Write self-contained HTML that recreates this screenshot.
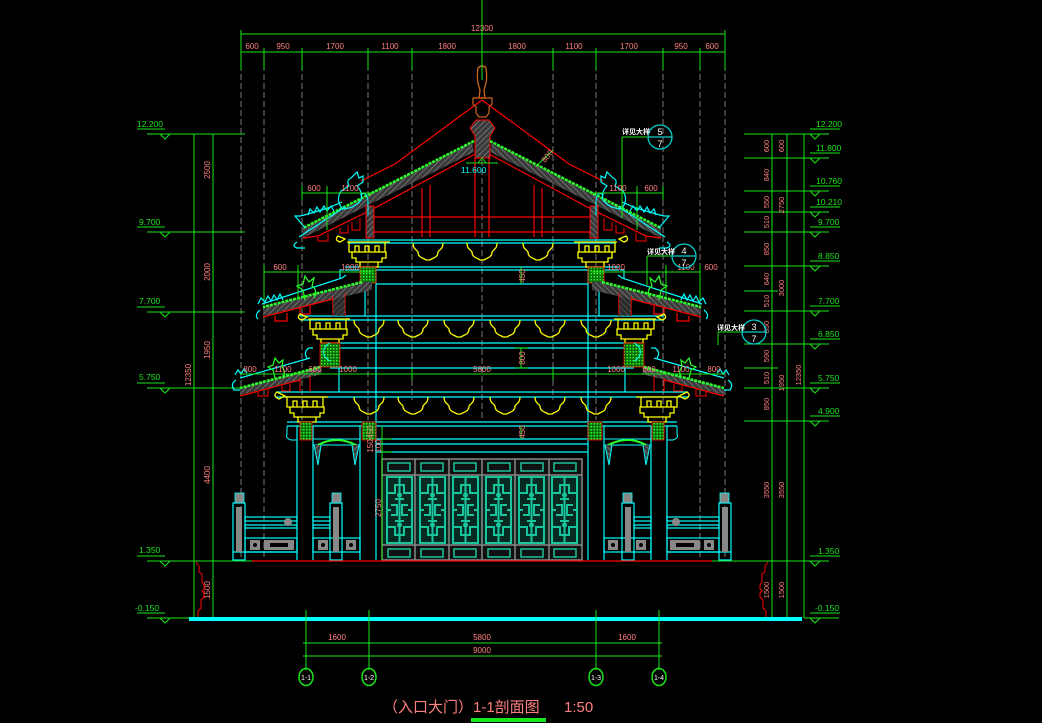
<!DOCTYPE html>
<html><head><meta charset="utf-8"><style>
html,body{margin:0;padding:0;background:#000;}
svg{display:block}
text{font-family:"Liberation Sans","Noto Sans CJK SC",sans-serif;}
</style></head><body>
<svg width="1042" height="723" viewBox="0 0 1042 723" xmlns="http://www.w3.org/2000/svg">
<defs>
<pattern id="hat" width="4" height="4" patternUnits="userSpaceOnUse" patternTransform="rotate(45)">
<rect width="4" height="4" fill="#3a3a3a"/><line x1="0" y1="0" x2="0" y2="4" stroke="#8a8a8a" stroke-width="1.2"/></pattern>
<pattern id="grn" width="3" height="3" patternUnits="userSpaceOnUse">
<rect width="3" height="3" fill="#0a6a0a"/><rect width="1.5" height="1.5" fill="#2aff2a"/></pattern>
<pattern id="lat" width="33" height="70" patternUnits="userSpaceOnUse" x="383" y="475">
<rect width="33" height="70" fill="#062a22"/>
<g fill="none" stroke="#18c49c" stroke-width="2">
<rect x="4" y="2" width="25" height="66"/>
<path d="M16.5 2v66M4 18h8v-8h9v8h8M4 52h8v8h9v-8h8M8 30h6v10h-6M25 30h-6v10h6M12 24h9M12 46h9M4 35h4M25 35h4"/>
</g>
<circle cx="16.5" cy="20" r="2.5" fill="#18c49c"/><circle cx="16.5" cy="50" r="2.5" fill="#18c49c"/>
</pattern>
<path id="arc" d="M0 0c0 6 3 6 5 9c0 6 6 6 8 8h4c2-2 8-2 8-8c2-3 5-3 5-9" stroke="#ffff00" stroke-width="1.3" fill="none"/>
</defs>

<!-- gray dashed axis lines -->
<g stroke="#7a7a7a" stroke-width="1" stroke-dasharray="6,3">
<line x1="241" y1="65" x2="241" y2="560"/><line x1="264" y1="65" x2="264" y2="560"/>
<line x1="302" y1="65" x2="302" y2="420"/><line x1="368" y1="65" x2="368" y2="420"/>
<line x1="412" y1="65" x2="412" y2="400"/><line x1="482" y1="160" x2="482" y2="420"/>
<line x1="553" y1="65" x2="553" y2="400"/><line x1="596" y1="65" x2="596" y2="420"/>
<line x1="663" y1="65" x2="663" y2="420"/><line x1="700" y1="65" x2="700" y2="560"/>
<line x1="725" y1="65" x2="725" y2="560"/>
</g>

<!-- top dims -->
<g stroke="#19e619" stroke-width="1">
<line x1="241" y1="34" x2="725" y2="34"/><line x1="241" y1="52" x2="725" y2="52"/>
<line x1="241" y1="30" x2="241" y2="70"/><line x1="264" y1="48" x2="264" y2="70"/>
<line x1="302" y1="48" x2="302" y2="70"/><line x1="368" y1="48" x2="368" y2="70"/>
<line x1="412" y1="48" x2="412" y2="70"/><line x1="482" y1="48" x2="482" y2="80"/>
<line x1="553" y1="48" x2="553" y2="70"/><line x1="596" y1="48" x2="596" y2="70"/>
<line x1="663" y1="48" x2="663" y2="70"/><line x1="700" y1="48" x2="700" y2="70"/>
<line x1="725" y1="30" x2="725" y2="70"/>
</g>
<g fill="#ff8080" font-size="8" text-anchor="middle">
<text x="482" y="31">12300</text>
<text x="252" y="49">600</text><text x="283" y="49">950</text><text x="335" y="49">1700</text>
<text x="390" y="49">1100</text><text x="447" y="49">1800</text><text x="517" y="49">1800</text>
<text x="574" y="49">1100</text><text x="629" y="49">1700</text><text x="681" y="49">950</text>
<text x="712" y="49">600</text>
</g>

<!-- left elevation -->
<g stroke="#19e619" stroke-width="1" fill="none">
<line x1="147" y1="134" x2="245" y2="134"/><line x1="147" y1="232" x2="245" y2="232"/>
<line x1="147" y1="312" x2="245" y2="312"/><line x1="147" y1="388" x2="245" y2="388"/>
<line x1="147" y1="561" x2="245" y2="561"/><line x1="147" y1="618" x2="190" y2="618"/>
<line x1="194" y1="134" x2="194" y2="618"/><line x1="213" y1="134" x2="213" y2="618"/>
<path d="M160 134l5 5l5-5M160 232l5 5l5-5M160 312l5 5l5-5M160 388l5 5l5-5M160 561l5 5l5-5M160 618l5 5l5-5"/>
<path d="M137 129h28M137 227h28M137 307h28M137 383h28M137 556h28M137 613h28"/>
</g>
<g fill="#19e619" font-size="8.5">
<text x="137" y="127">12.200</text><text x="139" y="225">9.700</text><text x="139" y="304">7.700</text>
<text x="139" y="380">5.750</text><text x="139" y="553">1.350</text><text x="135" y="611">-0.150</text>
</g>
<g fill="#ff8080" font-size="8" text-anchor="middle">
<text transform="translate(210,170) rotate(-90)">2500</text>
<text transform="translate(210,272) rotate(-90)">2000</text>
<text transform="translate(210,350) rotate(-90)">1950</text>
<text transform="translate(210,475) rotate(-90)">4400</text>
<text transform="translate(210,590) rotate(-90)">1500</text>
<text transform="translate(191,375) rotate(-90)">12350</text>
</g>

<!-- right elevation -->
<g stroke="#19e619" stroke-width="1" fill="none">
<line x1="744" y1="134" x2="829" y2="134"/><line x1="744" y1="158" x2="829" y2="158"/>
<line x1="744" y1="191" x2="829" y2="191"/><line x1="744" y1="212" x2="829" y2="212"/>
<line x1="744" y1="232" x2="829" y2="232"/><line x1="744" y1="266" x2="829" y2="266"/>
<line x1="744" y1="291" x2="778" y2="291"/><line x1="744" y1="311" x2="829" y2="311"/>
<line x1="744" y1="344" x2="829" y2="344"/><line x1="744" y1="368" x2="778" y2="368"/>
<line x1="744" y1="388" x2="829" y2="388"/><line x1="744" y1="421" x2="829" y2="421"/>
<line x1="744" y1="561" x2="829" y2="561"/><line x1="804" y1="618" x2="839" y2="618"/>
<line x1="772" y1="134" x2="772" y2="618"/><line x1="787" y1="134" x2="787" y2="618"/>
<line x1="804" y1="134" x2="804" y2="618"/>
<path d="M810 134l5 5l5-5M810 158l5 5l5-5M810 191l5 5l5-5M810 212l5 5l5-5M810 232l5 5l5-5M810 266l5 5l5-5M810 311l5 5l5-5M810 344l5 5l5-5M810 388l5 5l5-5M810 421l5 5l5-5M810 561l5 5l5-5M810 618l5 5l5-5"/>
<path d="M810 129h30M810 153h30M810 186h30M810 207h30M810 227h30M810 261h30M810 306h30M810 339h30M810 383h30M810 416h30M810 556h30M810 613h30"/>
</g>
<g fill="#19e619" font-size="8.5">
<text x="816" y="127">12.200</text><text x="816" y="151">11.800</text><text x="816" y="184">10.760</text>
<text x="816" y="205">10.210</text><text x="818" y="225">9.700</text><text x="818" y="259">8.850</text>
<text x="818" y="304">7.700</text><text x="818" y="337">6.850</text><text x="818" y="381">5.750</text>
<text x="818" y="414">4.900</text><text x="818" y="554">1.350</text><text x="815" y="611">-0.150</text>
</g>
<g fill="#ff8080" font-size="7.5" text-anchor="middle">
<text transform="translate(769,146) rotate(-90)">600</text><text transform="translate(769,175) rotate(-90)">840</text>
<text transform="translate(769,202) rotate(-90)">550</text><text transform="translate(769,222) rotate(-90)">510</text>
<text transform="translate(769,249) rotate(-90)">850</text><text transform="translate(769,279) rotate(-90)">640</text>
<text transform="translate(769,301) rotate(-90)">510</text><text transform="translate(769,327) rotate(-90)">850</text>
<text transform="translate(769,356) rotate(-90)">590</text><text transform="translate(769,378) rotate(-90)">510</text>
<text transform="translate(769,404) rotate(-90)">850</text><text transform="translate(769,490) rotate(-90)">3550</text>
<text transform="translate(769,590) rotate(-90)">1500</text>
<text transform="translate(784,146) rotate(-90)">600</text><text transform="translate(784,205) rotate(-90)">2750</text>
<text transform="translate(784,288) rotate(-90)">3000</text><text transform="translate(784,383) rotate(-90)">1950</text>
<text transform="translate(784,490) rotate(-90)">3550</text><text transform="translate(784,590) rotate(-90)">1500</text>
<text transform="translate(801,375) rotate(-90)">12350</text>
</g>

<!-- structure horizontal cyan lines -->
<g stroke="#00ffff" stroke-width="1.2" fill="none">
<line x1="348" y1="240" x2="616" y2="240"/><line x1="348" y1="243" x2="616" y2="243"/>
<line x1="345" y1="267" x2="619" y2="267"/><line x1="345" y1="270" x2="619" y2="270"/>
<line x1="376" y1="284" x2="588" y2="284"/>
<line x1="300" y1="316" x2="664" y2="316"/><line x1="300" y1="320" x2="664" y2="320"/>
<line x1="339" y1="343" x2="625" y2="343"/><line x1="339" y1="348" x2="625" y2="348"/>
<line x1="330" y1="368" x2="634" y2="368"/>
<line x1="276" y1="392" x2="688" y2="392"/><line x1="276" y1="397" x2="688" y2="397"/>
<line x1="287" y1="422" x2="677" y2="422"/><line x1="287" y1="426" x2="677" y2="426"/>
<line x1="376" y1="439" x2="588" y2="439"/><line x1="376" y1="444" x2="588" y2="444"/>
<line x1="376" y1="452" x2="588" y2="452"/>
<line x1="376" y1="270" x2="376" y2="560"/><line x1="588" y1="270" x2="588" y2="560"/>
<line x1="365" y1="270" x2="365" y2="316"/><line x1="599" y1="270" x2="599" y2="316"/>
<line x1="339" y1="348" x2="339" y2="392"/><line x1="625" y1="348" x2="625" y2="392"/>
<line x1="297" y1="426" x2="297" y2="560"/><line x1="313" y1="426" x2="313" y2="560"/>
<line x1="360" y1="426" x2="360" y2="560"/>
<line x1="667" y1="426" x2="667" y2="560"/><line x1="651" y1="426" x2="651" y2="560"/>
<line x1="604" y1="426" x2="604" y2="560"/>
</g>

<!-- yellow hanging arcs -->
<g>
<use href="#arc" x="413" y="243"/><use href="#arc" x="467" y="243"/><use href="#arc" x="523" y="243"/>
<use href="#arc" x="354" y="320"/><use href="#arc" x="398" y="320"/><use href="#arc" x="444" y="320"/>
<use href="#arc" x="490" y="320"/><use href="#arc" x="535" y="320"/><use href="#arc" x="581" y="320"/>
<use href="#arc" x="354" y="397"/><use href="#arc" x="398" y="397"/><use href="#arc" x="444" y="397"/>
<use href="#arc" x="490" y="397"/><use href="#arc" x="535" y="397"/><use href="#arc" x="581" y="397"/>
</g>

<!-- red upper frame -->
<g stroke="#ff0000" stroke-width="1.2" fill="none">
<line x1="373" y1="217" x2="591" y2="217"/><line x1="373" y1="232" x2="591" y2="232"/>
<line x1="422" y1="188" x2="422" y2="237"/><line x1="430" y1="185" x2="430" y2="237"/>
<line x1="534" y1="185" x2="534" y2="237"/><line x1="542" y1="188" x2="542" y2="237"/>
<line x1="475" y1="158" x2="475" y2="237"/><line x1="489" y1="158" x2="489" y2="237"/>
<polyline points="482,100 395,164 361,181"/><polyline points="482,100 569,164 603,181"/>
</g>
<line x1="553" y1="150" x2="530" y2="172" stroke="#19e619"/>
<text transform="translate(545,163) rotate(-50)" fill="#ff8080" font-size="8">800</text>

<!-- finial -->
<path d="M478 68q4-4 8 0q2 12-2 22l1 8h-6l1-8q-4-10-2-22z" fill="none" stroke="#c8641e" stroke-width="1.3"/>
<path d="M473 98h19v6l-3 3v6l-3 4h-7l-3-4v-6l-3-3z" fill="none" stroke="#c8641e" stroke-width="1.2"/>
<path d="M476 120h13l6 8l-5 8v22h-15v-22l-5-8z" fill="url(#hat)" stroke="#ff0000" stroke-width="1"/>
<line x1="482" y1="0" x2="482" y2="68" stroke="#19e619"/>
<line x1="466" y1="163" x2="498" y2="163" stroke="#19e619"/>
<path d="M478 163l4-5l4 5" fill="none" stroke="#19e619"/>
<text x="461" y="173" fill="#00ffff" font-size="8.5">11.600</text>

<!-- LEFT HALF (mirrored) -->
<g id="L">
<!-- top roof -->
<polygon points="472,142 303,228 303,238 474,152" fill="url(#hat)"/>
<polyline points="474,141 303,228" stroke="#2aff2a" stroke-width="2.5" fill="none" stroke-dasharray="3,1"/>
<polyline points="303,238 318,236 373,209 475,154" stroke="#ff0000" stroke-width="1.2" fill="none"/>
<path d="M318 236v5h10v-8M340 228v5h8v-8M352 222v8h8v-12" stroke="#ff0000" fill="none"/>
<rect x="366" y="206" width="8" height="32" fill="url(#hat)" stroke="#ff0000" stroke-width="1"/>
<path d="M297 242q-6 4 0 6h8M299 237l46-30M305 228l-10-12l5 0l8-2l20-6l14-6M308 215l2-6l4 4l3-6l3 5l4-6l3 5l4-5l3 5" stroke="#00ffff" fill="none" stroke-width="1.2"/>
<path d="M343 209q-8-8-2-18l8-5q-3-6 2-8l6-6l2 6l4-2v6l-6 4q6 6 4 14q-6 8-18 9z" stroke="#00ffff" fill="none" stroke-width="1.2"/>
<path d="M360 195q8-5 8 8v12" stroke="#00ffff" fill="none"/>
<!-- upper bracket -->
<g stroke="#ffff00" stroke-width="1.3" fill="none">
<path d="M347 242h43M349 242v10h6v-6h4v6h6v-6h4v6h6v-6h4v6h6v-10M352 252h34v6h-4v4h-26v-4h-4zM360 262h18v5h-18z"/>
<path d="M338 236q-4 4 2 6l5-3z"/>
</g>
<rect x="360" y="267" width="16" height="16" fill="url(#grn)" stroke="#ff0000" stroke-width="0.8"/>
<!-- mid roof -->
<polygon points="362,282 263,307 263,316 372,290 372,282" fill="url(#hat)"/>
<polyline points="362,282 263,307" stroke="#2aff2a" stroke-width="2.5" fill="none" stroke-dasharray="3,1"/>
<polyline points="263,317 333,299" stroke="#ff0000" stroke-width="1.2" fill="none"/>
<path d="M275 316v5h12v-8M300 308v6h10v-8M333 296v20M345 293v23" stroke="#ff0000" fill="none" stroke-width="1.2"/>
<rect x="333" y="294" width="12" height="22" fill="url(#hat)" opacity="0.7"/>
<path d="M260 310q-6 5 -2 9M258 304l3-6l4 4l3-6l3 5l3-6l3 5l3-6l3 6M262 304l80-26l4-3M340 278v-8h4" stroke="#00ffff" fill="none" stroke-width="1.2"/>
<path d="M305 300l-2-10l-6-4l6-2l2-8l4 6l5-4l-2 8q6 4 2 12" stroke="#2aff2a" fill="none" stroke-width="1.2"/>
<!-- middle bracket -->
<g stroke="#ffff00" stroke-width="1.3" fill="none">
<path d="M308 319h42M310 319v10h6v-6h4v6h6v-6h4v6h6v-6h4v6h6v-10M313 329h34v6h-4v4h-26v-4h-4zM321 339h18v4h-18z"/>
<path d="M300 314q-4 4 2 6l5-3z"/>
</g>
<rect x="320" y="343" width="20" height="24" fill="url(#grn)" stroke="#ff0000" stroke-width="0.8"/>
<path d="M330 343q-8 4 -6 12q2 4 6 6" stroke="#00ffff" fill="none"/>
<!-- low roof -->
<polygon points="320,367 240,388 240,395 322,374" fill="url(#hat)"/>
<polyline points="320,367 240,388" stroke="#2aff2a" stroke-width="2.5" fill="none" stroke-dasharray="3,1"/>
<polyline points="240,396 300,380" stroke="#ff0000" stroke-width="1.2" fill="none"/>
<path d="M258 392v4h10v-7M282 386v5h8v-7M300 378v14M310 376v16" stroke="#ff0000" fill="none"/>
<path d="M236 380q-6 4 -2 10h6M235 375l3-5l3 4l3-5l3 4M240 378l70-20M307 358q-4-6 2-10h4" stroke="#00ffff" fill="none" stroke-width="1.2"/>
<path d="M275 378l-2-8l-5-3l5-2l2-7l4 5l4-3l-1 7q4 4 1 10" stroke="#2aff2a" fill="none" stroke-width="1.2"/>
<!-- lower bracket -->
<g stroke="#ffff00" stroke-width="1.3" fill="none">
<path d="M285 397h43M287 397v10h6v-6h4v6h6v-6h4v6h6v-6h4v6h6v-10M290 407h34v6h-4v4h-26v-4h-4zM298 417h18v5h-18z"/>
<path d="M277 392q-5 4 2 7l6-3z"/>
</g>
<rect x="300" y="422" width="12" height="18" fill="url(#grn)" stroke="#ff0000" stroke-width="0.8"/>
<rect x="362" y="422" width="14" height="18" fill="url(#grn)" stroke="#ff0000" stroke-width="0.8"/>
<path d="M287 426v8q-2 4 4 6h6" stroke="#00ffff" fill="none"/>
<!-- arch bracket between columns -->
<path d="M313 439h47v6h-47z" stroke="#00ffff" fill="none"/>
<path d="M318 445q18-10 38 0" stroke="#2aff2a" stroke-width="2" fill="none"/>
<path d="M314 445l4 20l3-20M359 445l-4 20l-3-20" stroke="#00ffff" fill="url(#hat)"/>
<!-- balustrade -->
<g stroke="#00ffff" stroke-width="1.2" fill="none">
<rect x="233" y="503" width="12" height="57"/><rect x="330" y="503" width="12" height="57"/>
<rect x="245" y="517" width="52" height="4"/><rect x="313" y="517" width="17" height="4"/>
<rect x="245" y="525" width="52" height="3"/><rect x="313" y="525" width="17" height="3"/>
<rect x="245" y="538" width="52" height="14"/><rect x="313" y="538" width="47" height="14"/>
<line x1="233" y1="552" x2="297" y2="552"/>
</g>
<g fill="#888">
<rect x="235" y="493" width="9" height="10" stroke="#00ffff" stroke-width="0.8"/>
<rect x="332" y="493" width="9" height="10" stroke="#00ffff" stroke-width="0.8"/>
<rect x="236" y="507" width="6" height="45"/><rect x="333" y="507" width="6" height="45"/>
<rect x="250" y="540" width="10" height="10"/><rect x="264" y="540" width="30" height="10"/>
<rect x="318" y="540" width="10" height="10"/><rect x="346" y="540" width="10" height="10"/>
<circle cx="288" cy="522" r="4"/>
</g>
<g fill="#000"><circle cx="255" cy="545" r="2"/><circle cx="323" cy="545" r="2"/><circle cx="351" cy="545" r="2"/><rect x="270" y="543" width="18" height="4"/></g>
<!-- foundation -->
<path d="M196 562l3 4v6l3 2v8l2 3v4l-2 2l2 2v4l-3 3v8l-3 3v9" stroke="#ff0000" fill="none"/>
</g>
<use href="#L" transform="translate(964,0) scale(-1,1)"/>

<!-- door -->
<rect x="382" y="459" width="200" height="101" fill="#111" stroke="#888" stroke-width="1.5"/>
<rect x="383" y="475" width="198" height="70" fill="url(#lat)"/>
<g stroke="#888" stroke-width="1.5" fill="none">
<line x1="415" y1="459" x2="415" y2="560"/><line x1="449" y1="459" x2="449" y2="560"/>
<line x1="482" y1="459" x2="482" y2="560"/><line x1="515" y1="459" x2="515" y2="560"/>
<line x1="549" y1="459" x2="549" y2="560"/>
<line x1="382" y1="475" x2="582" y2="475"/><line x1="382" y1="545" x2="582" y2="545"/>
</g>
<g stroke="#18c49c" stroke-width="1.5" fill="none">
<rect x="388" y="463" width="22" height="8"/><rect x="421" y="463" width="22" height="8"/><rect x="454" y="463" width="22" height="8"/>
<rect x="488" y="463" width="22" height="8"/><rect x="521" y="463" width="22" height="8"/><rect x="554" y="463" width="22" height="8"/>
<rect x="388" y="549" width="22" height="8"/><rect x="421" y="549" width="22" height="8"/><rect x="454" y="549" width="22" height="8"/>
<rect x="488" y="549" width="22" height="8"/><rect x="521" y="549" width="22" height="8"/><rect x="554" y="549" width="22" height="8"/>
</g>

<!-- dims in structure -->
<g stroke="#19e619" stroke-width="1" fill="none">
<line x1="302" y1="193" x2="372" y2="193"/><line x1="592" y1="193" x2="663" y2="193"/>
<line x1="302" y1="186" x2="302" y2="200"/><line x1="327" y1="186" x2="327" y2="230"/><line x1="637" y1="186" x2="637" y2="230"/><line x1="663" y1="186" x2="663" y2="200"/>
<line x1="264" y1="272" x2="372" y2="272"/><line x1="592" y1="272" x2="700" y2="272"/>
<line x1="264" y1="265" x2="264" y2="300"/><line x1="298" y1="265" x2="298" y2="300"/><line x1="666" y1="265" x2="666" y2="300"/><line x1="700" y1="265" x2="700" y2="300"/>
<line x1="240" y1="374" x2="725" y2="374"/>
<line x1="412" y1="368" x2="412" y2="380"/><line x1="553" y1="368" x2="553" y2="380"/>
<line x1="521" y1="267" x2="521" y2="284"/><line x1="521" y1="348" x2="521" y2="368"/><line x1="521" y1="426" x2="521" y2="439"/>
<line x1="515" y1="348" x2="528" y2="348"/><line x1="515" y1="368" x2="528" y2="368"/>
<line x1="382" y1="439" x2="392" y2="439"/><line x1="382" y1="452" x2="392" y2="452"/>
<line x1="382" y1="426" x2="382" y2="560"/>
<line x1="622" y1="137" x2="647" y2="137"/><line x1="622" y1="137" x2="622" y2="218"/>
<line x1="647" y1="256" x2="672" y2="256"/><line x1="647" y1="256" x2="647" y2="285"/>
<line x1="718" y1="332" x2="742" y2="332"/><line x1="718" y1="332" x2="718" y2="345"/>
</g>
<g fill="#ff8080" font-size="8" text-anchor="middle">
<text x="314" y="191">600</text><text x="350" y="191">1100</text><text x="618" y="191">1100</text><text x="651" y="191">600</text>
<text x="280" y="270">600</text><text x="350" y="270">1000</text><text x="616" y="270">1000</text><text x="686" y="270">1100</text><text x="711" y="270">600</text>
<text x="250" y="372">800</text><text x="283" y="372">1100</text><text x="315" y="372">600</text><text x="348" y="372">1000</text>
<text x="482" y="372">5800</text><text x="616" y="372">1000</text><text x="649" y="372">600</text><text x="681" y="372">1100</text><text x="714" y="372">800</text>
<text transform="translate(525,276) rotate(-90)">450</text>
<text transform="translate(525,358) rotate(-90)">800</text>
<text transform="translate(525,432) rotate(-90)">450</text>
<text transform="translate(373,432) rotate(-90)">450</text>
<text transform="translate(373,446) rotate(-90)">150</text>
<text transform="translate(381,446) rotate(-90)">100</text>
<text transform="translate(381,508) rotate(-90)">2750</text>
</g>

<!-- callouts -->
<g stroke="#00cccc" stroke-width="1.3" fill="none">
<circle cx="660" cy="137" r="12"/><circle cx="684" cy="256" r="12"/><circle cx="754" cy="332" r="12"/>
<line x1="648" y1="137" x2="672" y2="137"/><line x1="672" y1="256" x2="696" y2="256"/><line x1="742" y1="332" x2="766" y2="332"/>
</g>
<g fill="#fff" font-size="9" text-anchor="middle">
<text x="660" y="135">5</text><text x="660" y="147">7</text>
<text x="684" y="254">4</text><text x="684" y="266">7</text>
<text x="754" y="330">3</text><text x="754" y="342">7</text>
</g>
<g fill="#fff" font-size="7" font-weight="bold">
<text x="622" y="134">详见大样</text><text x="647" y="254">详见大样</text><text x="717" y="330">详见大样</text>
</g>

<!-- ground -->
<line x1="147" y1="561" x2="252" y2="561" stroke="#19e619"/>
<line x1="252" y1="561" x2="712" y2="561" stroke="#ff0000" stroke-width="1.3"/>
<line x1="712" y1="561" x2="829" y2="561" stroke="#19e619"/>
<rect x="189" y="617" width="613" height="4" fill="#00ffff"/>

<!-- bottom dims -->
<g stroke="#19e619" stroke-width="1" fill="none">
<line x1="306" y1="610" x2="306" y2="670"/><line x1="369" y1="610" x2="369" y2="670"/>
<line x1="596" y1="610" x2="596" y2="670"/><line x1="659" y1="610" x2="659" y2="670"/>
<line x1="303" y1="643" x2="662" y2="643"/><line x1="303" y1="656" x2="662" y2="656"/>
<ellipse cx="306" cy="677" rx="7" ry="8.5" stroke-width="1.5"/><ellipse cx="369" cy="677" rx="7" ry="8.5" stroke-width="1.5"/>
<ellipse cx="596" cy="677" rx="7" ry="8.5" stroke-width="1.5"/><ellipse cx="659" cy="677" rx="7" ry="8.5" stroke-width="1.5"/>
</g>
<g fill="#ff8080" font-size="8" text-anchor="middle">
<text x="337" y="640">1600</text><text x="482" y="640">5800</text><text x="627" y="640">1600</text><text x="482" y="653">9000</text>
</g>
<g fill="#fff" font-size="7" text-anchor="middle">
<text x="306" y="680">1-1</text><text x="369" y="680">1-2</text><text x="596" y="680">1-3</text><text x="659" y="680">1-4</text>
</g>
<text x="383" y="712" fill="#ff8080" font-size="15">（入口大门）1-1剖面图</text>
<text x="564" y="712" fill="#ff8080" font-size="15">1:50</text>
<rect x="471" y="718" width="75" height="4" fill="#19e619"/>
</svg>
</body></html>
